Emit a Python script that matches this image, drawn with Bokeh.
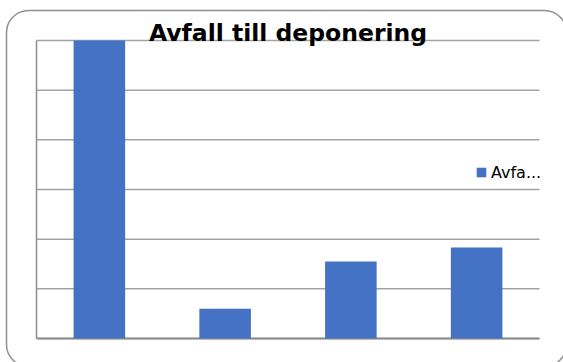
from bokeh.plotting import figure
from bokeh.models import (Range1d, Label, Legend, LegendItem, BoxAnnotation, ColumnDataSource)
from bokeh.embed import file_html
from bokeh.resources import INLINE

title_text = "Avfall till deponering"
series_name = "Avfa..."
categories = ["1", "2", "3", "4"]
values = [6.0, 0.60, 1.55, 1.83]
y_ticks = [0, 1, 2, 3, 4, 5, 6]

W, H = 563, 362
# plot-area pixel box inside the canvas
FL, FR, FT, FB = 36, 539, 40, 338
n = len(categories)
ymax = y_ticks[-1]
sx = (FR - FL) / n
sy = (FB - FT) / ymax

def px_x(px):
    return (px - FL) / sx

def px_y(py):
    return (FB - py) / sy

p = figure(width=W, height=H, output_backend="svg", toolbar_location=None,
           x_range=Range1d(px_x(0), px_x(W)), y_range=Range1d(px_y(H), px_y(0)),
           min_border=0)
p.outline_line_color = None
p.background_fill_color = "white"
p.border_fill_color = "white"
p.xaxis.visible = False
p.yaxis.visible = False
p.grid.visible = False

# gridlines
grid_src = ColumnDataSource(dict(x0=[0] * len(y_ticks), x1=[n] * len(y_ticks), y=y_ticks))
p.segment(x0="x0", x1="x1", y0="y", y1="y", source=grid_src, line_color="#a3a3a3", line_width=1.5)
# left axis and base line
p.segment(x0=[0], x1=[0], y0=[0], y1=[ymax], line_color="#8c8c8c", line_width=1.5)
p.segment(x0=[0], x1=[n], y0=[0], y1=[0], line_color="#8c8c8c", line_width=2)

# bars
src = ColumnDataSource(dict(x=[i + 0.5 for i in range(n)], top=values, cat=categories))
r = p.vbar(x="x", top="top", bottom=0, width=0.41, source=src, color="#4472C4", line_color=None)

# title
p.add_layout(Label(x=n / 2, y=px_y(32), text=title_text, text_font="DejaVu Sans",
                   text_font_style="bold", text_font_size="23.5px", text_align="center",
                   text_baseline="alphabetic", text_color="black"))

# legend
legend = Legend(items=[LegendItem(label=series_name, renderers=[r])],
                location=(475, H - 182), orientation="vertical",
                glyph_width=12, glyph_height=12, label_standoff=4,
                label_text_font="DejaVu Sans", label_text_font_size="16px",
                label_text_color="black",
                label_height=20, padding=0, margin=0, spacing=0,
                background_fill_alpha=0, border_line_alpha=0)
p.add_layout(legend)

# rounded chart border
p.add_layout(BoxAnnotation(left=px_x(6), right=px_x(566), top=px_y(10), bottom=px_y(366),
                           fill_alpha=0, line_color="#8f8f8f", line_alpha=1.0, line_width=1.5,
                           border_radius=22, level="overlay", editable=False))

open("out.html", "w").write(file_html(p, INLINE))
